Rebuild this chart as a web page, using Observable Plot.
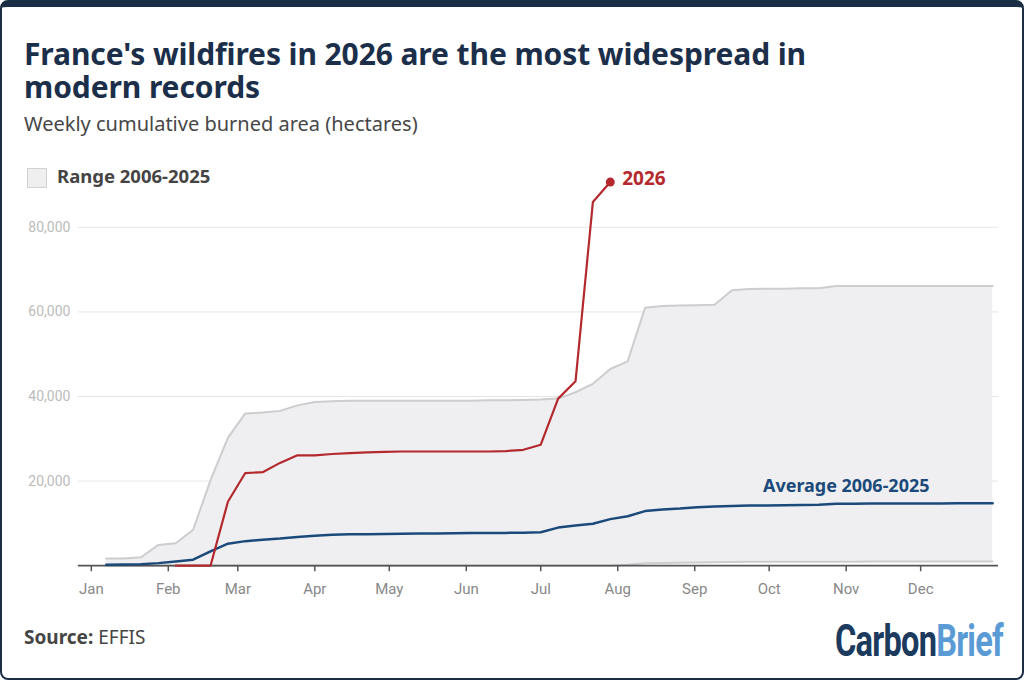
<!DOCTYPE html>
<html><head><meta charset="utf-8">
<script src="https://cdn.jsdelivr.net/npm/d3@7"></script>
<script src="https://cdn.jsdelivr.net/npm/@observablehq/plot@0.6"></script>
<style>
html,body{margin:0;padding:0;background:#fff;}
#card{position:relative;width:1024px;height:680px;box-sizing:border-box;border:2px solid #1c2e45;border-top:7px solid #1c2e45;border-radius:8px;overflow:hidden;font-family:"Noto Sans",Lato,sans-serif;background:#fff;}
.title{position:absolute;left:22px;font-size:30px;line-height:30px;font-weight:700;color:#1c2f4a;margin:0;white-space:nowrap;letter-spacing:-0.1px;}
#subtitle{position:absolute;left:22px;top:105px;font-size:20px;line-height:24px;color:#474747;white-space:nowrap;}
#legbox{position:absolute;left:25px;top:161px;width:18px;height:18px;background:#efeff0;border:1px solid #d2d2d2;}
#legtext{position:absolute;left:55px;top:158px;font-size:18.5px;line-height:22px;font-weight:700;color:#444;white-space:nowrap;}
#source{position:absolute;left:22px;top:618px;font-size:19px;line-height:24px;color:#444;white-space:nowrap;}
#logo{position:absolute;left:833px;top:610px;font-family:Roboto,sans-serif;font-weight:700;font-size:44px;line-height:48px;white-space:nowrap;transform-origin:0 0;letter-spacing:-1px;}
#chart{position:absolute;left:-2px;top:133px;}
</style></head>
<body>
<div id="card">
  <div class="title" style="top:31.5px">France's wildfires in 2026 are the most widespread in</div>
  <div class="title" style="top:64.5px">modern records</div>
  <div id="subtitle">Weekly cumulative burned area (hectares)</div>
  <div id="legbox"></div>
  <div id="legtext">Range 2006-2025</div>
  <div id="chart"></div>
  <div id="source"><b>Source:</b> EFFIS</div>
  <div id="logo"><span style="color:#1b3a5e">Carbon</span><span style="color:#5b9bd5">Brief</span></div>
</div>
<script>
const weeks = ["2026-01-07","2026-01-14","2026-01-21","2026-01-28","2026-02-04","2026-02-11","2026-02-18","2026-02-25",
"2026-03-04","2026-03-11","2026-03-18","2026-03-25","2026-04-01","2026-04-08","2026-04-15","2026-04-22","2026-04-29",
"2026-05-06","2026-05-13","2026-05-20","2026-05-27","2026-06-03","2026-06-10","2026-06-17","2026-06-24",
"2026-07-01","2026-07-08","2026-07-15","2026-07-22","2026-07-29","2026-08-05","2026-08-12","2026-08-19","2026-08-26",
"2026-09-02","2026-09-09","2026-09-16","2026-09-23","2026-09-30","2026-10-07","2026-10-14","2026-10-21","2026-10-28",
"2026-11-04","2026-11-11","2026-11-18","2026-11-25","2026-12-02","2026-12-09","2026-12-16","2026-12-23","2026-12-30"];

const rangeMax = [1700,1700,2000,4900,5300,8500,20200,30200,36000,36200,36600,37900,38700,38900,39000,39000,39000,
39000,39000,39000,39000,39000,39100,39100,39200,39300,39500,41000,43000,46500,48300,61000,61400,61500,61600,61700,
65100,65400,65500,65500,65600,65600,66100,66100,66100,66100,66100,66100,66100,66100,66100,66100];

const rangeMin = [0,0,0,0,0,0,0,0,0,0,0,0,0,0,0,0,0,0,0,0,0,0,0,0,0,0,0,0,0,0,200,550,650,700,750,800,850,900,
950,950,950,950,950,950,1000,1000,1000,1000,1000,1000,1000,1000];

const average = [200,250,350,600,1000,1400,3400,5200,5800,6100,6400,6800,7100,7300,7400,7450,7500,7550,7600,7600,
7650,7700,7700,7750,7800,7900,9000,9500,9900,11000,11700,12900,13300,13500,13800,14000,14100,14200,14250,14300,
14350,14400,14650,14650,14700,14700,14700,14700,14700,14750,14750,14750];

const y2026 = [null,null,null,null,0,0,0,15100,21900,22100,24300,26100,26100,26400,26600,26800,26900,27000,27000,
27000,27000,27000,27000,27100,27400,28600,39500,43600,86000,90700];

const yTicks = [20000,40000,60000,80000];
const monthTicks = ["2026-01-01","2026-02-01","2026-03-01","2026-04-01","2026-05-01","2026-06-01","2026-07-01",
"2026-08-01","2026-09-01","2026-10-01","2026-11-01","2026-12-01"];

const parse = d3.utcParse("%Y-%m-%d");
const rangeData = weeks.map((w,i)=>({date:parse(w), min:rangeMin[i], max:rangeMax[i]}));
const avgData = weeks.map((w,i)=>({date:parse(w), v:average[i]}));
const curData = y2026.map((v,i)=>({date:parse(weeks[i]), v})).filter(d=>d.v!=null);
const lastCur = curData[curData.length-1];
const avgLabel = avgData[42];

const RED = "#b3292d", BLUE = "#1b4a7a", GREY = "#cdcdcf";

const chart = Plot.plot({
  width: 1024, height: 470,
  marginLeft: 78, marginRight: 24, marginTop: 0, marginBottom: 44,
  style: {fontFamily: "Roboto, 'Noto Sans', sans-serif", background: "transparent", overflow: "visible"},
  x: {type: "utc", domain: [parse("2026-01-01"), parse("2027-01-01")], range: [91, 999.1]},
  y: {domain: [0, 80000], range: [426, 87]},
  marks: [
    Plot.gridY(yTicks, {stroke: "#e6e6e6", strokeOpacity: 1, strokeWidth: 1}),
    Plot.areaY(rangeData, {x: "date", y1: "min", y2: "max", fill: "#efeff1"}),
    Plot.lineY(rangeData, {x: "date", y: "max", stroke: GREY, strokeWidth: 2}),
    Plot.lineY(rangeData, {x: "date", y: "min", stroke: GREY, strokeWidth: 2}),
    Plot.ruleY([0], {stroke: "#555", strokeWidth: 1.6}),
    Plot.axisY({ticks: yTicks, tickSize: 0, tickPadding: 8, tickFormat: d3.format(","), fontSize: 14, color: "#bbbbbb", label: null}),
    Plot.axisX({ticks: monthTicks.map(parse), tickFormat: d3.utcFormat("%b"), tickSize: 6, tickPadding: 12, fontSize: 15, color: "#888", stroke: "#555", strokeWidth: 1.5, label: null}),
    Plot.lineY(avgData, {x: "date", y: "v", stroke: BLUE, strokeWidth: 2.5}),
    Plot.lineY(curData, {x: "date", y: "v", stroke: RED, strokeWidth: 2.2}),
    Plot.dot([lastCur], {x: "date", y: "v", r: 4.5, fill: RED}),
    Plot.text([lastCur], {x: "date", y: "v", text: () => "2026", dx: 12, dy: -3, textAnchor: "start", fill: RED, fontSize: 19, fontWeight: "bold", fontFamily: "'Noto Sans', sans-serif"}),
    Plot.text([avgLabel], {x: "date", y: "v", text: () => "Average 2006-2025", dx: 10, dy: -17, textAnchor: "middle", fill: BLUE, fontSize: 18, fontWeight: "bold", fontFamily: "'Noto Sans', sans-serif"})
  ]
});
document.getElementById("chart").appendChild(chart);

// fit logo width
const logo = document.getElementById("logo");
const w = logo.getBoundingClientRect().width;
logo.style.transform = `scaleX(${168 / w})`;
</script>
</body></html>
